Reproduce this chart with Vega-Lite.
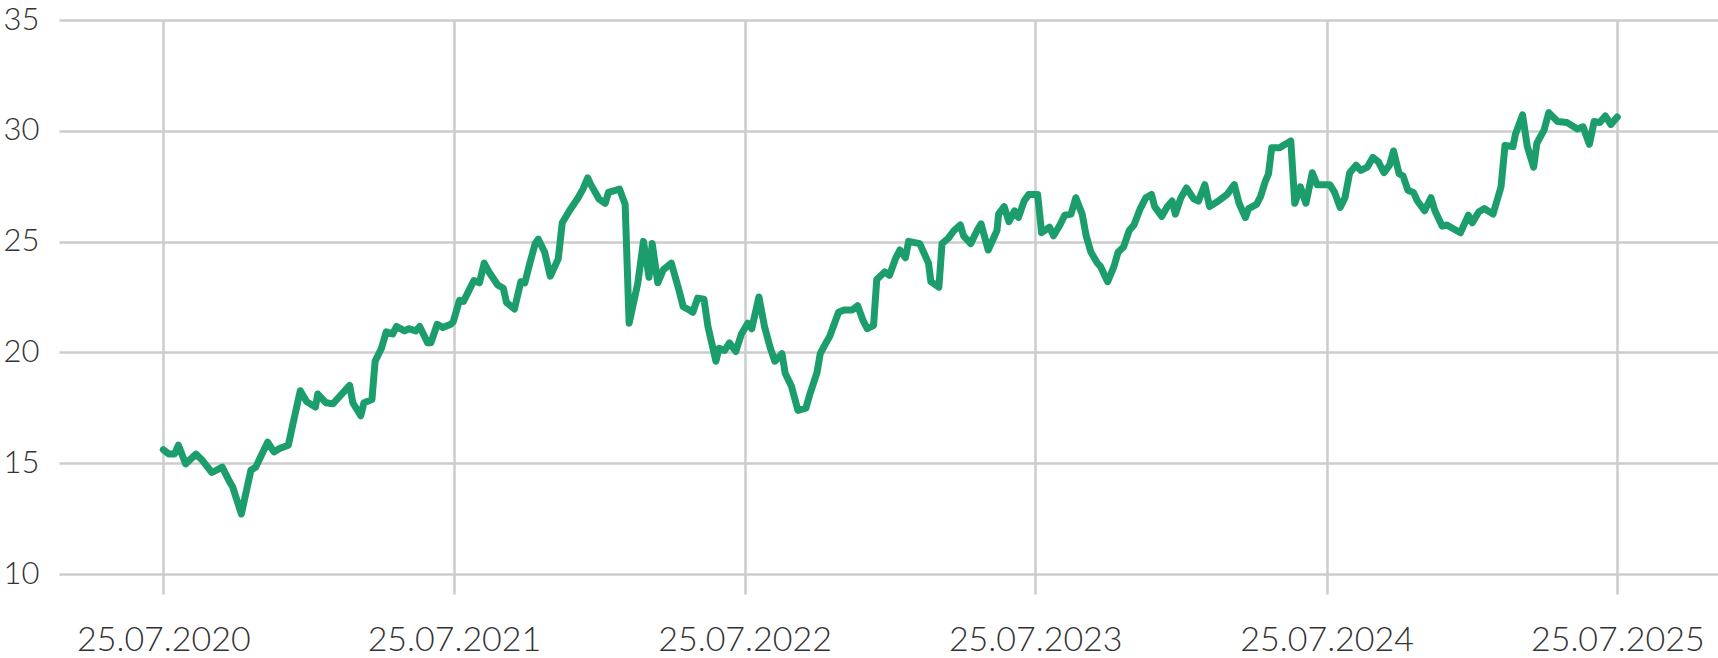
{
  "$schema": "https://vega.github.io/schema/vega-lite/v6.json",
  "width": 1659,
  "height": 554,
  "autosize": {"type": "none"},
  "padding": {"left": 59, "top": 20, "right": 0, "bottom": 84},
  "background": "white",
  "config": {"view": {"stroke": null}},
  "data": {"values": [
    {"date": "2020-07-25", "value": 15.61},
    {"date": "2020-08-01", "value": 15.41},
    {"date": "2020-08-08", "value": 15.41},
    {"date": "2020-08-13", "value": 15.81},
    {"date": "2020-08-22", "value": 14.97},
    {"date": "2020-09-04", "value": 15.41},
    {"date": "2020-09-11", "value": 15.17},
    {"date": "2020-09-24", "value": 14.58},
    {"date": "2020-10-07", "value": 14.82},
    {"date": "2020-10-16", "value": 14.18},
    {"date": "2020-10-20", "value": 13.94},
    {"date": "2020-10-31", "value": 12.71},
    {"date": "2020-11-12", "value": 14.68},
    {"date": "2020-11-18", "value": 14.82},
    {"date": "2020-12-03", "value": 15.95},
    {"date": "2020-12-11", "value": 15.51},
    {"date": "2020-12-18", "value": 15.66},
    {"date": "2020-12-29", "value": 15.81},
    {"date": "2021-01-03", "value": 16.64},
    {"date": "2021-01-13", "value": 18.27},
    {"date": "2021-01-21", "value": 17.78},
    {"date": "2021-02-01", "value": 17.53},
    {"date": "2021-02-04", "value": 18.12},
    {"date": "2021-02-14", "value": 17.73},
    {"date": "2021-02-23", "value": 17.68},
    {"date": "2021-03-16", "value": 18.51},
    {"date": "2021-03-20", "value": 17.73},
    {"date": "2021-03-30", "value": 17.14},
    {"date": "2021-04-03", "value": 17.73},
    {"date": "2021-04-13", "value": 17.87},
    {"date": "2021-04-17", "value": 19.6},
    {"date": "2021-04-25", "value": 20.19},
    {"date": "2021-05-01", "value": 20.93},
    {"date": "2021-05-09", "value": 20.83},
    {"date": "2021-05-14", "value": 21.17},
    {"date": "2021-05-24", "value": 20.97},
    {"date": "2021-05-29", "value": 21.07},
    {"date": "2021-06-07", "value": 20.97},
    {"date": "2021-06-12", "value": 21.17},
    {"date": "2021-06-22", "value": 20.43},
    {"date": "2021-06-26", "value": 20.43},
    {"date": "2021-07-04", "value": 21.27},
    {"date": "2021-07-11", "value": 21.12},
    {"date": "2021-07-21", "value": 21.27},
    {"date": "2021-07-24", "value": 21.37},
    {"date": "2021-08-01", "value": 22.35},
    {"date": "2021-08-06", "value": 22.3},
    {"date": "2021-08-19", "value": 23.24},
    {"date": "2021-08-26", "value": 23.14},
    {"date": "2021-09-01", "value": 24.03},
    {"date": "2021-09-07", "value": 23.63},
    {"date": "2021-09-18", "value": 23.04},
    {"date": "2021-09-25", "value": 22.89},
    {"date": "2021-09-29", "value": 22.25},
    {"date": "2021-10-09", "value": 21.96},
    {"date": "2021-10-17", "value": 23.19},
    {"date": "2021-10-22", "value": 23.14},
    {"date": "2021-10-28", "value": 23.98},
    {"date": "2021-11-04", "value": 24.91},
    {"date": "2021-11-08", "value": 25.11},
    {"date": "2021-11-16", "value": 24.52},
    {"date": "2021-11-23", "value": 23.44},
    {"date": "2021-12-03", "value": 24.22},
    {"date": "2021-12-08", "value": 25.85},
    {"date": "2021-12-17", "value": 26.39},
    {"date": "2021-12-28", "value": 26.98},
    {"date": "2022-01-03", "value": 27.37},
    {"date": "2022-01-09", "value": 27.87},
    {"date": "2022-01-13", "value": 27.57},
    {"date": "2022-01-23", "value": 26.93},
    {"date": "2022-01-31", "value": 26.73},
    {"date": "2022-02-04", "value": 27.22},
    {"date": "2022-02-18", "value": 27.37},
    {"date": "2022-02-25", "value": 26.68},
    {"date": "2022-03-02", "value": 21.32},
    {"date": "2022-03-13", "value": 23.14},
    {"date": "2022-03-20", "value": 25.01},
    {"date": "2022-03-27", "value": 23.39},
    {"date": "2022-03-31", "value": 24.91},
    {"date": "2022-04-07", "value": 23.14},
    {"date": "2022-04-14", "value": 23.73},
    {"date": "2022-04-24", "value": 24.03},
    {"date": "2022-05-03", "value": 22.89},
    {"date": "2022-05-09", "value": 22.06},
    {"date": "2022-05-17", "value": 21.91},
    {"date": "2022-05-21", "value": 21.81},
    {"date": "2022-05-27", "value": 22.45},
    {"date": "2022-06-04", "value": 22.4},
    {"date": "2022-06-09", "value": 21.17},
    {"date": "2022-06-19", "value": 19.6},
    {"date": "2022-06-23", "value": 20.19},
    {"date": "2022-06-30", "value": 20.09},
    {"date": "2022-07-06", "value": 20.43},
    {"date": "2022-07-14", "value": 20.04},
    {"date": "2022-07-21", "value": 20.83},
    {"date": "2022-07-29", "value": 21.32},
    {"date": "2022-08-03", "value": 21.07},
    {"date": "2022-08-12", "value": 22.5},
    {"date": "2022-08-19", "value": 21.17},
    {"date": "2022-08-26", "value": 20.24},
    {"date": "2022-09-01", "value": 19.6},
    {"date": "2022-09-10", "value": 19.94},
    {"date": "2022-09-14", "value": 19.06},
    {"date": "2022-09-22", "value": 18.46},
    {"date": "2022-09-30", "value": 17.38},
    {"date": "2022-10-10", "value": 17.48},
    {"date": "2022-10-15", "value": 18.12},
    {"date": "2022-10-24", "value": 19.1},
    {"date": "2022-10-28", "value": 19.94},
    {"date": "2022-11-05", "value": 20.48},
    {"date": "2022-11-09", "value": 20.73},
    {"date": "2022-11-20", "value": 21.81},
    {"date": "2022-11-27", "value": 21.91},
    {"date": "2022-12-07", "value": 21.91},
    {"date": "2022-12-14", "value": 22.11},
    {"date": "2022-12-21", "value": 21.42},
    {"date": "2022-12-26", "value": 21.07},
    {"date": "2023-01-03", "value": 21.22},
    {"date": "2023-01-07", "value": 23.29},
    {"date": "2023-01-17", "value": 23.63},
    {"date": "2023-01-23", "value": 23.48},
    {"date": "2023-01-31", "value": 24.27},
    {"date": "2023-02-05", "value": 24.62},
    {"date": "2023-02-12", "value": 24.27},
    {"date": "2023-02-16", "value": 25.01},
    {"date": "2023-03-02", "value": 24.91},
    {"date": "2023-03-13", "value": 24.03},
    {"date": "2023-03-16", "value": 23.19},
    {"date": "2023-03-26", "value": 22.94},
    {"date": "2023-03-30", "value": 24.91},
    {"date": "2023-04-07", "value": 25.16},
    {"date": "2023-04-14", "value": 25.5},
    {"date": "2023-04-22", "value": 25.75},
    {"date": "2023-04-26", "value": 25.26},
    {"date": "2023-05-05", "value": 24.91},
    {"date": "2023-05-13", "value": 25.5},
    {"date": "2023-05-18", "value": 25.8},
    {"date": "2023-05-27", "value": 24.62},
    {"date": "2023-06-07", "value": 25.5},
    {"date": "2023-06-09", "value": 26.24},
    {"date": "2023-06-16", "value": 26.58},
    {"date": "2023-06-22", "value": 25.9},
    {"date": "2023-06-29", "value": 26.39},
    {"date": "2023-07-04", "value": 26.09},
    {"date": "2023-07-11", "value": 26.83},
    {"date": "2023-07-17", "value": 27.13},
    {"date": "2023-07-28", "value": 27.13},
    {"date": "2023-08-02", "value": 25.4},
    {"date": "2023-08-12", "value": 25.65},
    {"date": "2023-08-17", "value": 25.26},
    {"date": "2023-08-25", "value": 25.75},
    {"date": "2023-08-31", "value": 26.19},
    {"date": "2023-09-08", "value": 26.24},
    {"date": "2023-09-14", "value": 26.98},
    {"date": "2023-09-22", "value": 26.24},
    {"date": "2023-09-27", "value": 25.26},
    {"date": "2023-10-03", "value": 24.52},
    {"date": "2023-10-11", "value": 24.03},
    {"date": "2023-10-15", "value": 23.88},
    {"date": "2023-10-24", "value": 23.19},
    {"date": "2023-11-01", "value": 23.88},
    {"date": "2023-11-06", "value": 24.52},
    {"date": "2023-11-13", "value": 24.76},
    {"date": "2023-11-20", "value": 25.5},
    {"date": "2023-11-26", "value": 25.75},
    {"date": "2023-12-04", "value": 26.49},
    {"date": "2023-12-11", "value": 26.98},
    {"date": "2023-12-18", "value": 27.13},
    {"date": "2023-12-22", "value": 26.58},
    {"date": "2023-12-31", "value": 26.14},
    {"date": "2024-01-07", "value": 26.58},
    {"date": "2024-01-13", "value": 26.83},
    {"date": "2024-01-17", "value": 26.24},
    {"date": "2024-01-24", "value": 26.98},
    {"date": "2024-01-31", "value": 27.42},
    {"date": "2024-02-09", "value": 26.93},
    {"date": "2024-02-15", "value": 26.83},
    {"date": "2024-02-23", "value": 27.57},
    {"date": "2024-02-29", "value": 26.58},
    {"date": "2024-03-11", "value": 26.83},
    {"date": "2024-03-22", "value": 27.13},
    {"date": "2024-03-31", "value": 27.57},
    {"date": "2024-04-06", "value": 26.73},
    {"date": "2024-04-14", "value": 26.09},
    {"date": "2024-04-18", "value": 26.49},
    {"date": "2024-04-28", "value": 26.68},
    {"date": "2024-05-03", "value": 27.03},
    {"date": "2024-05-09", "value": 27.72},
    {"date": "2024-05-13", "value": 28.06},
    {"date": "2024-05-17", "value": 29.24},
    {"date": "2024-05-27", "value": 29.24},
    {"date": "2024-06-03", "value": 29.39},
    {"date": "2024-06-10", "value": 29.54},
    {"date": "2024-06-15", "value": 26.73},
    {"date": "2024-06-22", "value": 27.47},
    {"date": "2024-06-29", "value": 26.73},
    {"date": "2024-07-07", "value": 28.11},
    {"date": "2024-07-13", "value": 27.57},
    {"date": "2024-07-29", "value": 27.57},
    {"date": "2024-08-04", "value": 27.22},
    {"date": "2024-08-11", "value": 26.54},
    {"date": "2024-08-17", "value": 26.98},
    {"date": "2024-08-23", "value": 28.11},
    {"date": "2024-08-31", "value": 28.45},
    {"date": "2024-09-06", "value": 28.21},
    {"date": "2024-09-14", "value": 28.36},
    {"date": "2024-09-21", "value": 28.8},
    {"date": "2024-09-28", "value": 28.6},
    {"date": "2024-10-05", "value": 28.11},
    {"date": "2024-10-12", "value": 28.45},
    {"date": "2024-10-17", "value": 29.09},
    {"date": "2024-10-24", "value": 28.06},
    {"date": "2024-10-29", "value": 27.96},
    {"date": "2024-11-04", "value": 27.32},
    {"date": "2024-11-11", "value": 27.22},
    {"date": "2024-11-16", "value": 26.83},
    {"date": "2024-11-25", "value": 26.39},
    {"date": "2024-12-03", "value": 26.98},
    {"date": "2024-12-08", "value": 26.39},
    {"date": "2024-12-17", "value": 25.7},
    {"date": "2024-12-23", "value": 25.75},
    {"date": "2024-12-30", "value": 25.6},
    {"date": "2025-01-09", "value": 25.4},
    {"date": "2025-01-19", "value": 26.19},
    {"date": "2025-01-24", "value": 25.85},
    {"date": "2025-02-01", "value": 26.34},
    {"date": "2025-02-08", "value": 26.49},
    {"date": "2025-02-19", "value": 26.24},
    {"date": "2025-03-01", "value": 27.47},
    {"date": "2025-03-06", "value": 29.34},
    {"date": "2025-03-16", "value": 29.29},
    {"date": "2025-03-19", "value": 29.83},
    {"date": "2025-03-28", "value": 30.72},
    {"date": "2025-04-03", "value": 29.29},
    {"date": "2025-04-11", "value": 28.36},
    {"date": "2025-04-15", "value": 29.44},
    {"date": "2025-04-24", "value": 30.03},
    {"date": "2025-04-30", "value": 30.82},
    {"date": "2025-05-11", "value": 30.42},
    {"date": "2025-05-23", "value": 30.37},
    {"date": "2025-06-05", "value": 30.08},
    {"date": "2025-06-12", "value": 30.18},
    {"date": "2025-06-20", "value": 29.39},
    {"date": "2025-06-26", "value": 30.42},
    {"date": "2025-07-03", "value": 30.37},
    {"date": "2025-07-10", "value": 30.67},
    {"date": "2025-07-17", "value": 30.28},
    {"date": "2025-07-25", "value": 30.62}
  ]},
  "mark": {"type": "line", "color": "#1b9e6b", "strokeWidth": 7, "strokeJoin": "round", "strokeCap": "round", "clip": false},
  "encoding": {
    "x": {
      "field": "date",
      "type": "temporal",
      "title": null,
      "scale": {"domain": ["2020-03-16", "2025-11-28T12:00:00"]},
      "axis": {
        "values": ["2020-07-25", "2021-07-25", "2022-07-25", "2023-07-25", "2024-07-25", "2025-07-25"],
        "format": "%d.%m.%Y",
        "domain": false,
        "grid": true,
        "gridColor": "#cccccc",
        "gridWidth": 2.5,
        "ticks": true,
        "tickSize": 20,
        "tickColor": "#cccccc",
        "tickWidth": 2.5,
        "labelFont": "Lato",
        "labelFontWeight": 300,
        "labelFontSize": 34,
        "labelColor": "#333333",
        "labelBaseline": "alphabetic",
        "labelPadding": 56,
        "labelFlush": false,
        "labelOverlap": false
      }
    },
    "y": {
      "field": "value",
      "type": "quantitative",
      "title": null,
      "scale": {"domain": [10, 35], "nice": false, "zero": false},
      "axis": {
        "values": [10, 15, 20, 25, 30, 35],
        "domain": false,
        "ticks": false,
        "grid": true,
        "gridColor": "#cccccc",
        "gridWidth": 2.5,
        "labelFont": "Lato",
        "labelFontWeight": 300,
        "labelFontSize": 31,
        "labelColor": "#333333",
        "labelPadding": 20,
        "labelFlush": false,
        "labelOverlap": false
      }
    }
  }
}
